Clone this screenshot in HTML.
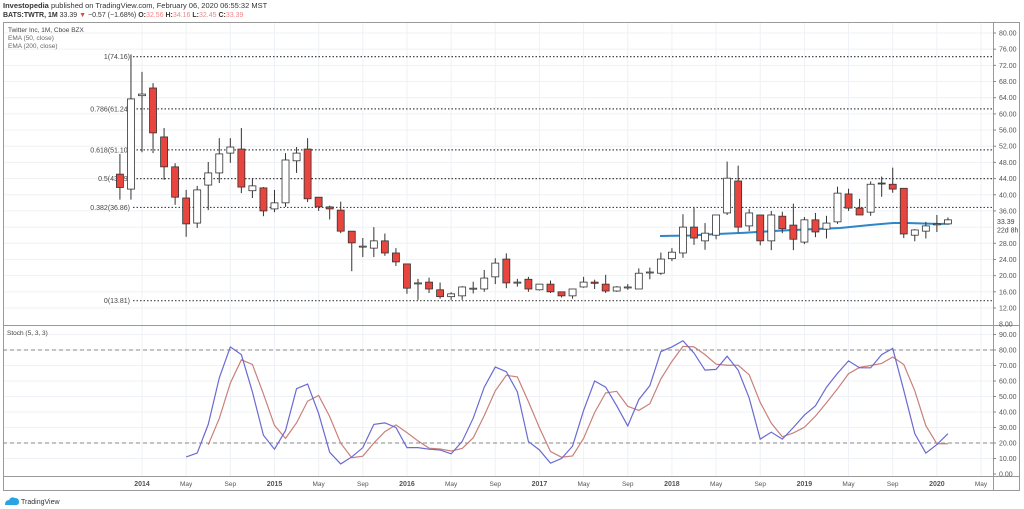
<!DOCTYPE html>
<html><head><meta charset="utf-8"><style>
html,body{margin:0;padding:0;background:#fff;width:1024px;height:509px;overflow:hidden;font-family:"Liberation Sans",sans-serif}
</style></head><body>
<svg id="s" width="1024" height="509" xmlns="http://www.w3.org/2000/svg" font-family="Liberation Sans, sans-serif"></svg>
<script>
const s=document.getElementById('s');let h='';
const X=m=>142+m*11.04; // m: months from Jan 2014
const PY=p=>33+(80-p)*4.044;
const SY=v=>474-v*1.55;
// grid
const months=[0,4,8,12,16,20,24,28,32,36,40,44,48,52,56,60,64,68,72,76];
for(const m of months){h+=`<line x1="${X(m)}" y1="22" x2="${X(m)}" y2="476" stroke="#eef1f5" stroke-width="1"/>`;}
for(let p=12;p<=80;p+=4){h+=`<line x1="3" y1="${PY(p)}" x2="993" y2="${PY(p)}" stroke="#eef1f5"/>`;}
for(let v=10;v<=90;v+=10){h+=`<line x1="3" y1="${SY(v)}" x2="993" y2="${SY(v)}" stroke="#eef1f5"/>`;}
// frame
h+=`<rect x="3.5" y="22.5" width="1016" height="468" fill="none" stroke="#9a9a9a"/>`;
h+=`<line x1="993.5" y1="22" x2="993.5" y2="491" stroke="#9a9a9a"/>`;
h+=`<line x1="3" y1="325.5" x2="1019" y2="325.5" stroke="#9a9a9a"/>`;
h+=`<line x1="3" y1="476.5" x2="1019" y2="476.5" stroke="#9a9a9a"/>`;
// fib
const fib=[["1(74.16)",74.16],["0.786(61.24)",61.24],["0.618(51.10)",51.10],["0.5(43.99)",43.99],["0.382(36.86)",36.86],["0(13.81)",13.81]];
for(const [t,p] of fib){const y=PY(p);h+=`<line x1="133" y1="${y}" x2="993" y2="${y}" stroke="#444" stroke-dasharray="1.5,2" stroke-width="1.2"/>`;
h+=`<text x="130" y="${y+2.5}" font-size="7" fill="#444" text-anchor="end">${t}</text>`;}
// candles [O,H,L,C] starting Nov 2013 (m=-2)
const c=[[45.1,50.1,38.8,41.8],[41.4,74.7,38.8,63.7],[64.5,70.4,50.5,64.9],[66.4,67.6,50.3,55.3],[54.3,56.5,43.7,46.9],[46.9,47.8,37.5,39.4],[39.2,41.2,29.6,32.8],[33.0,42.2,31.8,41.2],[42.4,48.1,36.2,45.4],[45.4,54.0,42.9,50.1],[50.3,54.0,47.9,51.8],[51.3,56.5,40.4,41.9],[41.0,44.1,39.2,42.2],[41.7,41.9,34.7,36.0],[36.5,41.2,35.7,38.0],[38.0,50.3,37.0,48.6],[48.4,51.8,45.4,50.3],[51.3,54.0,38.2,39.0],[39.4,39.4,36.0,37.0],[37.0,37.3,33.9,36.5],[36.2,38.3,30.5,31.0],[31.0,31.0,21.1,28.1],[27.1,29.3,24.6,27.3],[26.8,32.0,24.6,28.6],[28.6,30.4,24.9,25.6],[25.6,26.8,22.4,23.4],[22.9,22.9,15.5,16.9],[18.0,19.2,14.0,18.2],[18.4,19.5,15.7,16.7],[16.5,18.3,14.3,14.8],[14.8,15.9,14.0,15.5],[15.0,17.4,14.0,17.2],[16.8,18.5,15.6,16.9],[16.7,21.4,16.0,19.4],[19.7,24.3,17.9,23.1],[24.1,25.5,16.9,18.2],[18.3,19.2,17.3,18.4],[19.1,19.7,16.0,16.7],[16.5,17.9,16.3,17.9],[17.9,18.8,15.7,16.0],[16.0,16.0,14.6,15.0],[15.0,16.7,14.3,16.7],[17.2,19.7,17.0,18.4],[18.4,19.0,16.7,18.1],[17.9,20.2,15.7,16.2],[16.2,17.4,16.0,17.2],[17.1,17.9,16.5,17.2],[16.7,21.8,16.7,20.6],[20.9,22.0,19.1,20.9],[20.6,25.7,20.2,24.1],[24.2,26.8,23.6,25.8],[25.6,35.2,24.4,32.0],[32.0,37.0,27.6,29.3],[28.6,33.0,26.4,30.5],[30.0,35.0,29.0,35.0],[35.5,48.2,35.0,44.1],[43.4,47.2,30.7,32.0],[32.3,36.5,31.0,35.5],[35.0,35.0,27.5,28.6],[28.6,36.0,26.3,35.0],[34.7,35.8,30.5,31.6],[32.5,37.8,26.3,29.0],[28.3,34.5,27.8,33.8],[33.8,35.5,29.5,30.8],[31.5,34.8,29.2,33.0],[33.3,42.0,32.8,40.4],[40.2,41.5,36.0,36.7],[36.7,39.0,35.5,35.0],[35.7,43.3,34.8,42.6],[42.9,44.5,39.5,42.8],[42.6,46.7,40.5,41.4],[41.6,41.6,29.3,30.3],[30.0,31.5,28.5,31.3],[31.0,33.3,29.2,32.3],[32.8,35.0,30.8,32.8],[32.8,34.4,32.6,33.8]];
// EMA
h+=`<polyline points="660,236 690,235.5 717,234 745,232.8 773,231 805,229.5 840,228 870,225 893,223 907,223 940,224 950,223.5" fill="none" stroke="#2e86c8" stroke-width="2"/>`;
c.forEach((d,i)=>{const x=X(i-2),[o,hh,l,cl]=d;const up=cl>=o;const t=PY(Math.max(o,cl)),b=PY(Math.min(o,cl));
h+=`<line x1="${x}" y1="${PY(hh)}" x2="${x}" y2="${PY(l)}" stroke="#333" stroke-width="1"/>`;
h+=`<rect x="${x-3.5}" y="${t}" width="7" height="${Math.max(b-t,1)}" fill="${up?'#fff':'#e8453f'}" stroke="#333" stroke-width="0.8"/>`;});
// stoch
const k=[11,13.5,32,62,82,77,53,25,16,28,55,58,39,14,6.5,11,17,32,33,30,17,17,16,15.5,13,21,36,56,69,66,53,21,15.5,7,10,18,41,60,56,44,31,48,57,79,82,86,78,67,67.5,76,67,49,22.5,27,22.5,30,38,44,56,65,73,68.5,68.5,77,81,54,26,13.5,19,26];
let pk='',pd='';k.forEach((v,i)=>{const x=X(i+4);pk+=`${x},${SY(v)} `;if(i>=2){const a=(k[i]+k[i-1]+k[i-2])/3;pd+=`${x},${SY(a)} `;}});
h+=`<line x1="3" y1="${SY(80)}" x2="993" y2="${SY(80)}" stroke="#888" stroke-dasharray="4,3"/>`;
h+=`<line x1="3" y1="${SY(20)}" x2="993" y2="${SY(20)}" stroke="#888" stroke-dasharray="4,3"/>`;
h+=`<polyline points="${pd}" fill="none" stroke="#c9807a" stroke-width="1.2"/>`;
h+=`<polyline points="${pk}" fill="none" stroke="#6a6ad2" stroke-width="1.2"/>`;
// right axis
for(let p=12;p<=80;p+=4){const y=PY(p);if(p==32)continue;h+=`<line x1="993" y1="${y}" x2="996" y2="${y}" stroke="#888"/><text x="999" y="${y+2.5}" font-size="7" fill="#555">${p.toFixed(2)}</text>`;}
h+=`<text x="999" y="${PY(8)+2.5}" font-size="7" fill="#555">8.00</text>`;
h+=`<text x="997" y="${PY(33.39)+2.5}" font-size="7" fill="#444">33.39</text><text x="997" y="${PY(33.39)+11}" font-size="7" fill="#444">22d 8h</text>`;
for(let v=0;v<=90;v+=10){const y=SY(v);h+=`<line x1="993" y1="${y}" x2="996" y2="${y}" stroke="#888"/><text x="999" y="${y+2.5}" font-size="7" fill="#555">${v.toFixed(2)}</text>`;}
// bottom axis
const lab=["2014","May","Sep","2015","May","Sep","2016","May","Sep","2017","May","Sep","2018","May","Sep","2019","May","Sep","2020","May"];
months.forEach((m,i)=>{const yr=lab[i].length==4;h+=`<text x="${X(m)}" y="486" font-size="${yr?7:6.5}" ${yr?'font-weight="bold"':''} fill="#555" text-anchor="middle">${lab[i]}</text>`;});
// header
h+=`<text x="3" y="8" font-size="7.5" fill="#333"><tspan font-weight="bold">Investopedia</tspan> published on TradingView.com, February 06, 2020 06:55:32 MST</text>`;
h+=`<text x="3" y="17" font-size="7" fill="#333"><tspan font-weight="bold">BATS:TWTR, 1M</tspan> 33.39 <tspan fill="#e8453f">▼</tspan> −0.57 (−1.68%) <tspan font-weight="bold">O:</tspan><tspan fill="#e88">32.56</tspan> <tspan font-weight="bold">H:</tspan><tspan fill="#e88">34.16</tspan> <tspan font-weight="bold">L:</tspan><tspan fill="#e88">32.45</tspan> <tspan font-weight="bold">C:</tspan><tspan fill="#e88">33.39</tspan></text>`;
h+=`<text x="8" y="32" font-size="6.5" fill="#444">Twitter Inc, 1M, Cboe BZX</text><text x="8" y="40" font-size="6.5" fill="#666">EMA (50, close)</text><text x="8" y="48" font-size="6.5" fill="#666">EMA (200, close)</text>`;
h+=`<text x="7" y="335" font-size="6.5" fill="#444">Stoch (5, 3, 3)</text>`;
h+=`<path d="M5,505 q0,-5 4,-5 q2,-4 6,-2 q4,0 4,4 q0,3 -3,3 z" fill="#2aa3e3"/><text x="21" y="504" font-size="7" fill="#333">TradingView</text>`;
s.innerHTML=h;
</script>
</body></html>
